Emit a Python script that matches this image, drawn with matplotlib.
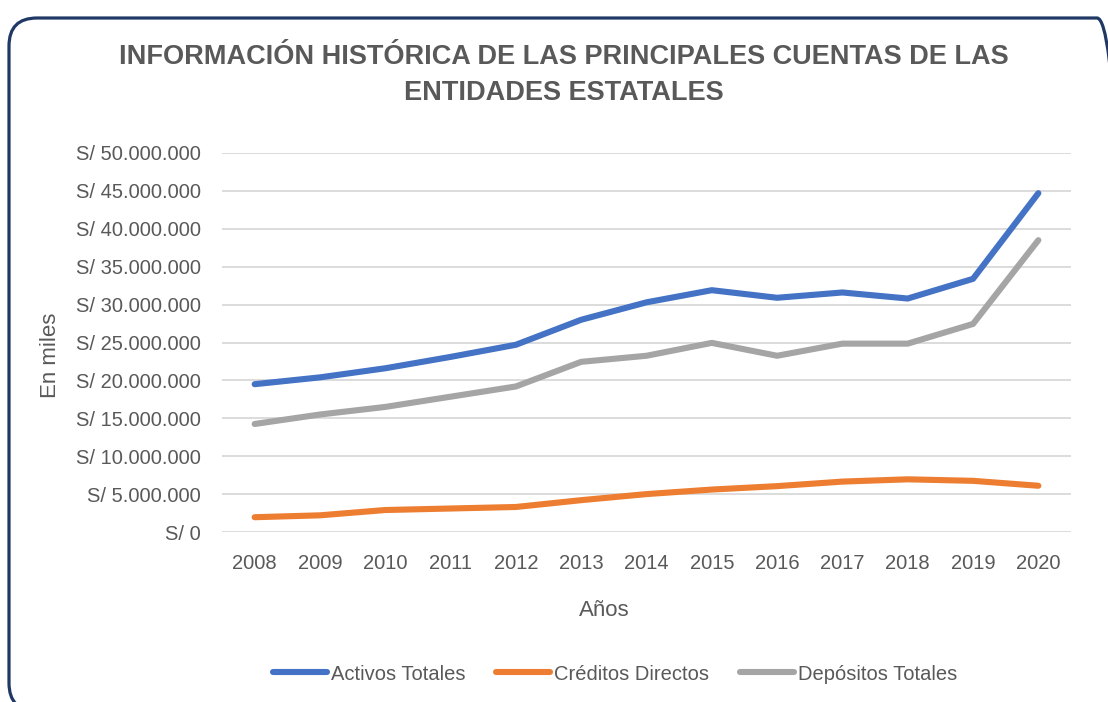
import matplotlib
matplotlib.use("Agg")
import matplotlib.pyplot as plt
from matplotlib.patches import FancyBboxPatch
from matplotlib.transforms import IdentityTransform
from matplotlib.ticker import FuncFormatter, MultipleLocator

plt.rcParams['font.family'] = ['Liberation Sans', 'DejaVu Sans']

years = ['2008', '2009', '2010', '2011', '2012', '2013', '2014',
         '2015', '2016', '2017', '2018', '2019', '2020']
activos = [19500000, 20400000, 21600000, 23100000, 24700000, 28000000, 30300000,
           31900000, 30900000, 31600000, 30800000, 33400000, 44700000]
creditos = [1950000, 2200000, 2900000, 3100000, 3300000, 4200000, 5000000,
            5600000, 6050000, 6650000, 6950000, 6750000, 6100000]
depositos = [14250000, 15500000, 16500000, 17850000, 19200000, 22450000, 23250000,
             24950000, 23250000, 24850000, 24850000, 27450000, 38500000]
series_names = ['Activos Totales', 'Créditos Directos', 'Depósitos Totales']
series_colors = ['#4472C4', '#ED7D31', '#A5A5A5']

TXT = '#595959'
W, H = 1108, 702
fig = plt.figure(figsize=(W / 100, H / 100), dpi=100)
fig.patch.set_facecolor('white')

ax = fig.add_axes([222 / W, (H - 532) / H, (1071 - 222) / W, (532 - 153) / H])
x = list(range(len(years)))
for vals, name, col in zip([activos, creditos, depositos], series_names, series_colors):
    ax.plot(x, vals, color=col, lw=4.4, label=name, solid_capstyle='round',
            solid_joinstyle='round', zorder=3)

ax.set_xlim(-0.5, len(years) - 0.5)
ax.set_ylim(0, 50000000)
ax.yaxis.set_major_locator(MultipleLocator(5000000))
ax.yaxis.set_major_formatter(FuncFormatter(
    lambda v, p: 'S/ ' + f'{v:,.0f}'.replace(',', '.')))
ax.set_xticks(x)
ax.set_xticklabels(years)
ax.grid(axis='y', color='#D9D9D9', lw=1.3, zorder=0)
ax.grid(axis='x', visible=False)
for s in ax.spines.values():
    s.set_visible(False)
ax.tick_params(axis='both', length=0, colors=TXT, labelsize=14.5)
ax.tick_params(axis='y', pad=15)
ax.tick_params(axis='x', pad=16)

fig.text(564 / W, 1 - 57 / H, 'INFORMACIÓN HISTÓRICA DE LAS PRINCIPALES CUENTAS DE LAS',
         ha='center', va='center', fontsize=19.5, fontweight='bold', color=TXT)
fig.text(564 / W, 1 - 93 / H, 'ENTIDADES ESTATALES',
         ha='center', va='center', fontsize=19.5, fontweight='bold', color=TXT)
fig.text(604 / W, 1 - 610 / H, 'Años', ha='center', va='center', fontsize=16, color=TXT)
fig.text(51 / W, 1 - 355 / H, 'En miles', ha='center', va='center', fontsize=16,
         color=TXT, rotation=90)

handles, labels = ax.get_legend_handles_labels()
leg = fig.legend(handles, labels, loc='center', bbox_to_anchor=(615 / W, 1 - 674 / H),
                 ncol=3, frameon=False, fontsize=14.5, handlelength=2.7,
                 handletextpad=0.2, columnspacing=1.5, labelcolor=TXT)

border = FancyBboxPatch((9, H - 711), 1125 - 9, 711 - 18,
                        boxstyle='round,pad=0,rounding_size=28',
                        transform=IdentityTransform(), fill=False,
                        edgecolor='#1F3864', linewidth=2.3)
fig.patches.append(border)

fig.savefig('out.png', dpi=100, facecolor='white')
